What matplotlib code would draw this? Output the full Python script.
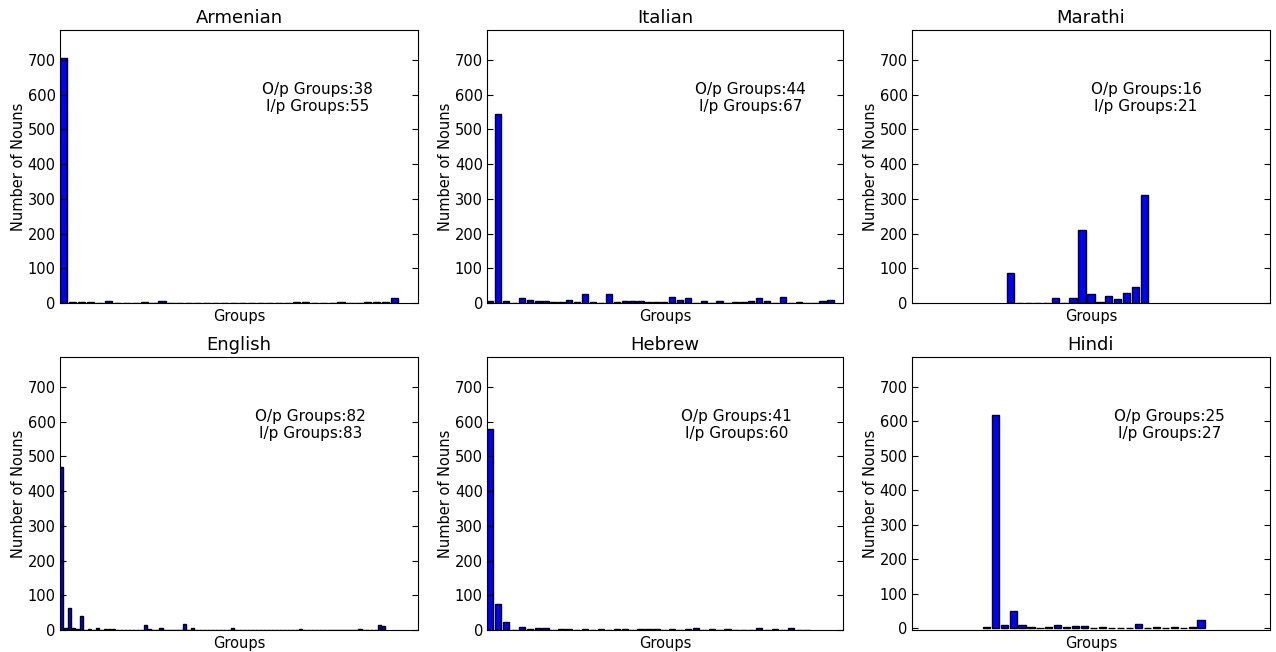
import numpy as np
import matplotlib; matplotlib.use("Agg"); import matplotlib.pyplot as plt

# nouns per output group (order = plotting order)
armenian = [705, 2, 2, 2, 1, 5, 1, 1, 1, 2, 1, 5, 1, 1, 1, 1, 1, 1, 1, 1, 1, 1, 1, 1, 1, 1,
            2, 2, 1, 1, 1, 2, 1, 1, 2, 4, 4, 15]
italian = [6, 545, 5, 1, 13, 8, 6, 5, 2, 2, 8, 3, 25, 3, 1, 25, 3, 5, 5, 5, 2, 2, 2, 16, 8, 14,
           1, 5, 1, 5, 1, 2, 2, 5, 13, 5, 1, 16, 1, 2, 1, 1, 5, 8]
marathi = [86, 0, 0, 0, 0, 15, 0, 15, 210, 25, 3, 20, 12, 30, 45, 310]
english = [470, 5, 62, 5, 3, 40, 1, 3, 1, 5, 1, 3, 2, 2, 1, 1, 1, 1, 1, 1, 1, 15, 3, 1, 1, 5,
           1, 1, 1, 1, 1, 18, 1, 5, 1, 1, 1, 1, 1, 1, 1, 1, 1, 5, 1, 1, 1, 1, 1, 1, 1, 1, 1, 1,
           1, 1, 1, 1, 1, 1, 3, 1, 1, 1, 1, 1, 1, 1, 1, 1, 1, 1, 1, 1, 1, 3, 1, 1, 1, 1, 15, 12]
hebrew = [578, 75, 22, 1, 10, 4, 7, 7, 1, 3, 2, 1, 2, 1, 2, 1, 4, 2, 1, 2, 4, 4, 1, 2, 1, 2,
          7, 1, 2, 1, 4, 1, 1, 1, 7, 1, 2, 1, 6, 1, 1]
hindi = [3, 618, 10, 50, 10, 4, 1, 3, 10, 5, 7, 7, 1, 4, 1, 1, 1, 12, 1, 4, 1, 4, 1, 4, 24]

titles = ["Armenian", "Italian", "Marathi", "English", "Hebrew", "Hindi"]
series = [armenian, italian, marathi, english, hebrew, hindi]
op_groups = [38, 44, 16, 82, 41, 25]
ip_groups = [55, 67, 21, 83, 60, 27]

# layout (figure fractions) and per-panel axis limits
lefts = [0.047, 0.3817, 0.7147]; widths = [0.2806, 0.279, 0.2806]
bottoms = [0.5353, 0.0337]; height = 0.4187
xlims = [(0, 40), (0, 45), (-10.6, 29.4), (0, 90), (0, 45), (-7.9, 32.1)]
ylims = [(0, 786), (0, 786), (1, 786), (0, 786), (0, 786), (-5, 786)]
txt_x = [0.72, 0.74, 0.654, 0.70, 0.70, 0.72]

fig = plt.figure(figsize=(12.76, 6.52), dpi=100)
for i, (t, v) in enumerate(zip(titles, series)):
    r, c = divmod(i, 3)
    ax = fig.add_axes([lefts[c], bottoms[r], widths[c], height])
    ax.bar(np.arange(len(v)), v, width=0.8, align="edge", color="#0000ff", edgecolor="black", linewidth=1)
    ax.set_xlim(*xlims[i]); ax.set_ylim(*ylims[i])
    ax.set_yticks([0, 100, 200, 300, 400, 500, 600, 700])
    ax.set_xticks([])
    ax.tick_params(axis="y", direction="in", right=True, length=4, pad=3, labelsize=10.5)
    ax.set_title(t, fontsize=13, pad=5)
    ax.set_xlabel("Groups", fontsize=10.5, labelpad=4)
    ax.set_ylabel("Number of Nouns", fontsize=10.5, labelpad=1)
    ax.text(txt_x[i], 0.75, f"O/p Groups:{op_groups[i]}\nI/p Groups:{ip_groups[i]}", transform=ax.transAxes,
            ha="center", va="center", multialignment="center", fontsize=11)

plt.savefig("out.png", dpi=100)
